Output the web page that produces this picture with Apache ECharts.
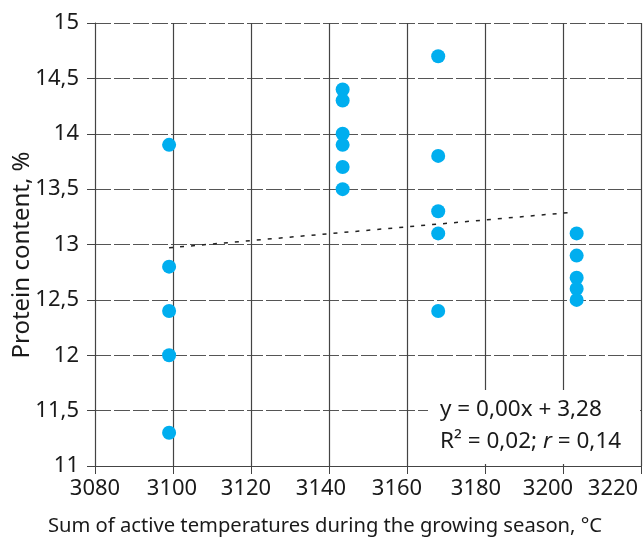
<!DOCTYPE html>
<html><head><meta charset="utf-8">
<script src="https://cdn.jsdelivr.net/npm/echarts@6/dist/echarts.min.js"></script>
<style>html,body{margin:0;padding:0;background:#fff}#c{width:643px;height:537px}</style>
</head><body><div id="c"></div>
<script>
const xValues = [3099, 3099, 3099, 3099, 3099, 3143.5, 3143.5, 3143.5, 3143.5, 3143.5, 3143.5, 3168, 3168, 3168, 3168, 3168, 3203.5, 3203.5, 3203.5, 3203.5, 3203.5];
const yValues = [13.9, 12.8, 12.4, 12.0, 11.3, 14.4, 14.3, 14.0, 13.9, 13.7, 13.5, 14.7, 13.8, 13.3, 13.1, 12.4, 13.1, 12.9, 12.7, 12.6, 12.5];
const trendX = [3099, 3202];
const trendY = [12.97, 13.29];
const xTicks = [3080, 3100, 3120, 3140, 3160, 3180, 3200, 3220];
const yTicks = [11, 11.5, 12, 12.5, 13, 13.5, 14, 14.5, 15];
const xTitle = 'Sum of active temperatures during the growing season, °C';
const yTitle = 'Protein content, %';

// label layout shifts (px, leftwards) to mimic the original label placement
const xLabelShiftPx = [0, 1, 5, 8, 10, 9, 15, 28];

const FONT = '"Noto Sans", sans-serif';
const fmt = v => String(v).replace('.', ',');
const rich = {};
xTicks.forEach((v, i) => {
  rich['s' + i] = {fontFamily: FONT, fontSize: 22, color: '#1a1a1a', padding: [0, 2 * xLabelShiftPx[i], 0, 0]};
});
const chart = echarts.init(document.getElementById('c'), null, {renderer: 'canvas'});
chart.setOption({
  animation: false,
  backgroundColor: '#fff',
  grid: {left: 95, right: 2, top: 23, bottom: 71, containLabel: false, outerBoundsMode: 'none'},
  xAxis: {
    type: 'value', min: xTicks[0], max: xTicks[xTicks.length - 1], interval: 20,
    name: xTitle, nameLocation: 'middle', nameGap: 50, nameMoveOverlap: false,
    nameTextStyle: {fontFamily: FONT, fontSize: 20.2, color: '#1a1a1a', padding: [0, 86, 0, 0]},
    axisLine: {show: true, lineStyle: {color: '#444', width: 1}},
    axisTick: {show: true, length: 8, lineStyle: {color: '#444'}},
    axisLabel: {
      fontFamily: FONT, fontSize: 22, color: '#1a1a1a', margin: 12, rich: rich,
      formatter: v => {
        const i = xTicks.indexOf(v);
        return i >= 0 ? '{s' + i + '|' + v + '}' : String(v);
      }
    },
    splitLine: {show: true, lineStyle: {color: '#444', width: 1.2}}
  },
  yAxis: {
    type: 'value', min: yTicks[0], max: yTicks[yTicks.length - 1], interval: 0.5,
    name: yTitle, nameLocation: 'middle', nameGap: 61, nameRotate: 90, nameMoveOverlap: false,
    nameTextStyle: {fontFamily: FONT, fontSize: 24, color: '#1a1a1a', padding: [0, 21, 0, 0]},
    axisLine: {show: true, lineStyle: {color: '#444', width: 1}},
    axisTick: {show: true, length: 8, lineStyle: {color: '#444'}},
    axisLabel: {fontFamily: FONT, fontSize: 22, color: '#1a1a1a', margin: 16, formatter: v => fmt(v)},
    splitLine: {show: true, lineStyle: {color: '#555', width: 1.2, type: [16, 3]}}
  },
  series: [
    {
      type: 'line', data: trendX.map((x, i) => [x, trendY[i]]), showSymbol: false, symbol: 'none',
      lineStyle: {color: '#222', width: 1.5, type: [4, 7]}, z: 3, silent: true
    },
    {
      type: 'scatter', data: xValues.map((x, i) => [x, yValues[i]]), symbolSize: 14,
      itemStyle: {color: '#00aeef', opacity: 1}, z: 4
    }
  ],
  graphic: [
    {type: 'rect', shape: {x: 428, y: 390, width: 212, height: 74}, style: {fill: '#fff'}, z: 100},
    {type: 'text', left: 440, top: 394, z: 101, style: {
      text: 'y = 0,00x + 3,28\n{n|R² = 0,02; }{i|r}{n| = 0,14}',
      fontFamily: FONT, fontSize: 22.5, fill: '#1a1a1a', lineHeight: 32,
      rich: {n: {fontFamily: FONT, fontSize: 22.5, fill: '#1a1a1a'}, i: {fontFamily: FONT, fontSize: 22.5, fontStyle: 'italic', fill: '#1a1a1a'}}
    }}
  ]
});
</script></body></html>
